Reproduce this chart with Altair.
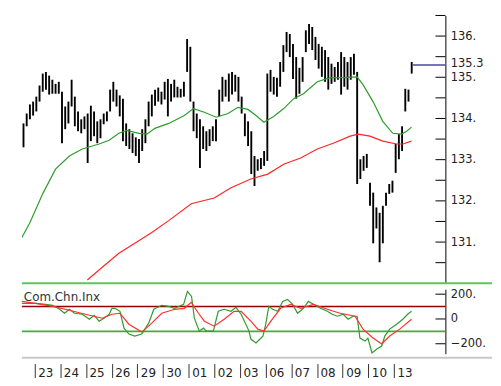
import altair as alt
import pandas as pd

# ---------------- data ----------------
day_labels = ["23", "24", "25", "26", "29", "30", "01", "02", "03", "06", "07", "08", "09", "10", "13"]
bars_per_day = 8

bar_high = [133.88, 134.12, 134.34, 134.41, 134.53, 134.80, 135.09, 135.13, 135.04, 134.94,
            134.84, 134.89, 134.65, 134.29, 134.41, 134.94, 134.53, 134.17, 133.98, 134.05,
            134.12, 134.31, 134.17, 133.93, 133.98, 134.12, 134.17, 134.70, 134.89, 134.70,
            134.56, 134.48, 133.88, 133.74, 133.64, 133.54, 133.50, 133.74, 133.98, 134.41,
            134.58, 134.70, 134.75, 134.65, 134.89, 134.96, 134.84, 134.94, 134.77, 134.72,
            134.89, 135.93, 135.74, 134.41, 134.12, 133.98, 133.81, 133.69, 133.74, 133.81,
            133.98, 134.70, 135.01, 134.94, 135.09, 135.13, 135.06, 135.01, 134.53, 134.12,
            133.93, 133.69, 133.09, 133.01, 133.04, 133.21, 135.09, 135.18, 135.01, 134.99,
            135.37, 135.78, 136.10, 136.05, 135.81, 135.49, 135.23, 135.49, 136.14, 136.29,
            136.22, 135.98, 135.81, 135.74, 135.66, 135.49, 135.33, 135.25, 135.37, 135.61,
            135.49, 135.37, 135.49, 135.57, 135.13, 133.01, 133.09, 133.14, 132.44, 132.20,
            131.84, 131.71, 131.88, 132.20, 132.41, 132.49, 133.38, 133.62, 133.81, 134.72,
            134.70, 135.37]
bar_low = [133.30, 133.81, 133.98, 134.07, 134.17, 134.41, 134.65, 134.70, 134.58, 134.60,
           134.60, 134.60, 133.40, 133.74, 133.88, 134.29, 133.81, 133.69, 133.64, 133.74,
           132.92, 133.45, 133.57, 133.40, 133.52, 133.86, 133.93, 134.17, 134.41, 134.29,
           134.05, 133.45, 133.33, 133.26, 133.16, 133.09, 132.92, 133.21, 133.40, 133.81,
           134.05, 134.31, 134.41, 134.34, 134.46, 134.05, 134.41, 134.51, 134.51, 134.51,
           134.53, 135.13, 134.41, 133.69, 133.52, 132.80, 133.26, 133.21, 133.33, 133.45,
           133.45, 134.05, 134.41, 134.53, 134.41, 134.58, 134.65, 134.41, 134.12, 133.57,
           133.33, 132.65, 132.36, 132.73, 132.77, 132.85, 132.97, 134.65, 134.58, 134.53,
           134.77, 135.13, 135.61, 135.49, 134.96, 134.48, 134.60, 134.89, 135.61, 135.81,
           135.66, 135.42, 135.21, 135.01, 134.89, 134.70, 134.84, 134.89, 134.94, 134.58,
           134.77, 134.70, 134.94, 135.06, 132.41, 132.53, 132.73, 132.80, 131.88, 130.97,
           131.33, 130.51, 130.97, 131.88, 132.17, 132.20, 132.68, 133.01, 133.21, 134.17,
           134.41, 135.09]

ma_fast_t = [-0.50, -0.19, 0.31, 0.81, 1.35, 1.85, 2.51, 2.90, 3.28, 3.59, 4.06, 4.37, 4.68,
             5.22, 5.83, 6.18, 6.61, 7.07, 7.53, 7.92, 8.31, 8.62, 8.93, 9.31, 9.70, 10.09,
             10.47, 11.01, 11.51, 12.02, 12.56, 12.79, 13.18, 13.56, 13.95, 14.30, 14.49, 14.68]
ma_fast_v = [131.11, 131.47, 132.17, 132.77, 133.09, 133.26, 133.38, 133.47, 133.64, 133.71,
             133.64, 133.62, 133.76, 133.88, 134.07, 134.24, 134.15, 134.03, 134.12, 134.27,
             134.22, 134.07, 133.91, 134.05, 134.24, 134.48, 134.60, 134.89, 134.99, 134.99,
             135.01, 134.82, 134.41, 133.93, 133.64, 133.62, 133.69, 133.79]

ma_slow_t = [2.05, 2.63, 3.28, 3.90, 4.56, 5.22, 6.10, 6.99, 7.65, 8.42, 9.08, 9.70, 10.36,
             11.01, 11.63, 12.29, 12.60, 13.06, 13.56, 14.10, 14.34, 14.68]
ma_slow_v = [130.08, 130.39, 130.73, 130.97, 131.23, 131.52, 131.93, 132.07, 132.32, 132.53,
             132.65, 132.89, 133.04, 133.26, 133.40, 133.57, 133.62, 133.57, 133.45, 133.38,
             133.38, 133.45]

cci_t = [-0.50, -0.27, 0.04, 0.43, 0.70, 0.97, 1.16, 1.35, 1.55, 1.85, 2.13, 2.32, 2.51, 2.70,
         2.90, 3.01, 3.13, 3.32, 3.48, 3.67, 3.90, 4.17, 4.44, 4.64, 4.95, 5.22, 5.45, 5.80,
         5.95, 6.11, 6.22, 6.41, 6.57, 6.68, 6.96, 7.15, 7.38, 7.65, 7.84, 8.04, 8.35, 8.42,
         8.62, 8.89, 9.00, 9.12, 9.27, 9.47, 9.66, 9.85, 10.05, 10.24, 10.47, 10.66, 10.86,
         11.13, 11.40, 11.59, 11.79, 12.02, 12.21, 12.40, 12.56, 12.67, 12.87, 12.98, 13.14,
         13.33, 13.52, 13.64, 13.83, 14.10, 14.34, 14.53, 14.68]
cci_v = [126, 126, 126, 118, 110, 78, 46, 78, 46, 38, -2, 30, -18, 6,
         38, 86, 86, 62, -74, -122, -138, -122, -34, 78, 110, 102, 86, 118,
         222, 182, 6, -98, -74, -98, -98, 62, 78, 62, 94, 38, -98, -162,
         -194, -138, -42, 102, 78, 62, 142, 158, 118, 46, 86, 142, 118,
         86, 62, 38, 22, 38, -2, 22, 22, -154, -178, -154, -274,
         -242, -218, -138, -82, -42, -2, 38, 62]

sig_t = [-0.50, 0.04, 0.70, 1.35, 1.97, 2.63, 3.01, 3.32, 3.67, 4.17, 4.56, 4.95, 5.45, 5.83,
         6.10, 6.38, 6.61, 6.99, 7.38, 7.77, 8.04, 8.42, 8.69, 8.93, 9.20, 9.58, 9.97, 10.36,
         10.86, 11.40, 11.90, 12.48, 12.79, 13.18, 13.52, 13.83, 14.22, 14.68]
sig_v = [142, 126, 102, 70, 38, 6, 38, 46, -42, -106, -34, 46, 78, 86,
         134, 46, -18, -58, -2, 62, 62, -18, -82, -98, -18, 86, 118, 86,
         118, 78, 46, 22, -82, -154, -202, -138, -82, -2]

last_price = 135.3
price_ticks = [130.5, 131, 131.5, 132, 132.5, 133, 133.5, 134, 134.5, 135, 135.5, 136, 136.5]
price_labels = [131, 132, 133, 134, 135, 136]
cci_ticks = [200, 0, -200]
cci_upper_level = 100
cci_lower_level = -100

# ---------------- layout ----------------
X_DOMAIN = [-0.5, 16.0]
W = 427
H1 = 270
H2 = 65
FONT = "DejaVu Sans"
TXT = "#222222"
LINE_END = 474  # right end of the full-width separator lines, in px from plot left

xs = alt.Scale(domain=X_DOMAIN, nice=False, zero=False)
ys1 = alt.Scale(domain=[130, 136.5], nice=False, zero=False)
ys2 = alt.Scale(domain=[-280, 240], nice=False, zero=False)

bars = pd.DataFrame({
    "t": [-0.5 + (i + 0.5) / bars_per_day for i in range(len(bar_high))],
    "high": bar_high,
    "low": bar_low,
})
last_t = bars["t"].iloc[-1]

price_axis = alt.Axis(
    orient="right", values=price_labels + [last_price],
    labelExpr="datum.value == 135.3 ? '135.3' : format(datum.value, 'd') + '.'",
    ticks=False, grid=False, domain=True, domainColor="black", domainWidth=1,
    labelPadding=5, labelFont=FONT, labelFontSize=11.5, labelColor=TXT,
    labelOffset={"condition": {"test": "datum.value == 135.3", "value": -1.5},
                 "value": 0},
    labelOverlap=False, title=None,
)
cci_axis = alt.Axis(
    orient="right", values=cci_ticks,
    labelExpr="datum.value == 0 ? '0' : format(datum.value, 'd') + '.'",
    ticks=False, grid=False, domain=True, domainColor="black", domainWidth=1,
    labelPadding=5, labelFont=FONT, labelFontSize=11.5, labelColor=TXT,
    labelOverlap=False, title=None,
)
label_js = "[" + ",".join("'" + d + "'" for d in day_labels) + "][datum.value]"
x_axis = alt.Axis(
    values=list(range(len(day_labels))), labelExpr=label_js,
    domain=False, grid=False, tickSize=14, tickColor="#333333", tickWidth=1,
    offset=10, labelAlign="left", labelBaseline="middle", labelPadding=-5, labelOffset=3,
    labelFont=FONT, labelFontSize=12, labelColor=TXT, labelOverlap=False, labelFlush=False,
    title=None,
)

def X1(field):
    return alt.X(field, scale=xs, axis=None)

def Y1(field):
    return alt.Y(field, scale=ys1, axis=price_axis)

def X2(field):
    return alt.X(field, scale=xs, axis=x_axis)

def Y2(field):
    return alt.Y(field, scale=ys2, axis=cci_axis)

bar_layer = alt.Chart(bars).mark_rule(color="black", strokeWidth=1.9).encode(
    x=X1("t:Q"), y=Y1("low:Q"), y2="high:Q",
)
fast_layer = alt.Chart(pd.DataFrame({"t": ma_fast_t, "v": ma_fast_v})).mark_line(
    color="#2e9c2e", strokeWidth=1.2, clip=True
).encode(x=X1("t:Q"), y=Y1("v:Q"))
slow_layer = alt.Chart(pd.DataFrame({"t": ma_slow_t, "v": ma_slow_v})).mark_line(
    color="#ff2626", strokeWidth=1.2, clip=True
).encode(x=X1("t:Q"), y=Y1("v:Q"))
last_layer = alt.Chart(pd.DataFrame({"t0": [last_t + 0.05], "t1": [X_DOMAIN[1]], "v": [last_price]})).mark_rule(
    color="#48489c", strokeWidth=1.5
).encode(x=X1("t0:Q"), x2="t1:Q", y=Y1("v:Q"))
ptick_layer = alt.Chart(pd.DataFrame({"v": price_ticks})).mark_rule(color="black", strokeWidth=1).encode(
    y=Y1("v:Q"), x=alt.value(W - 10), x2=alt.value(W)
)
sep_layer = alt.Chart(pd.DataFrame({"k": [0]})).mark_rule(color="#5ec45e", strokeWidth=2).encode(
    x=alt.value(0), x2=alt.value(LINE_END), y=alt.value(H1)
)

upper = alt.layer(bar_layer, fast_layer, slow_layer, last_layer, ptick_layer, sep_layer).properties(
    width=W, height=H1
)

lvl_up = alt.Chart(pd.DataFrame({"v": [cci_upper_level]})).mark_rule(color="#9a0000", strokeWidth=1.5).encode(
    y=Y2("v:Q"), x=alt.value(0), x2=alt.value(W)
)
lvl_dn = alt.Chart(pd.DataFrame({"v": [cci_lower_level]})).mark_rule(color="#44aa44", strokeWidth=2).encode(
    y=Y2("v:Q"), x=alt.value(0), x2=alt.value(W)
)
cci_layer = alt.Chart(pd.DataFrame({"t": cci_t, "v": cci_v})).mark_line(
    color="#2e9c2e", strokeWidth=1.2
).encode(x=X2("t:Q"), y=Y2("v:Q"))
sig_layer = alt.Chart(pd.DataFrame({"t": sig_t, "v": sig_v})).mark_line(
    color="#ff3030", strokeWidth=1.2
).encode(x=X2("t:Q"), y=Y2("v:Q"))
ctick_layer = alt.Chart(pd.DataFrame({"v": cci_ticks})).mark_rule(color="black", strokeWidth=1).encode(
    y=Y2("v:Q"), x=alt.value(W - 10), x2=alt.value(W)
)
title_layer = alt.Chart(pd.DataFrame({"label": ["Com.Chn.Inx"]})).mark_text(
    align="left", baseline="middle", font=FONT, fontSize=12, color="#333333"
).encode(text="label:N", x=alt.value(2), y=alt.value(8))
bottom_line = alt.Chart(pd.DataFrame({"k": [0]})).mark_rule(color="#c8c8c8", strokeWidth=2).encode(
    x=alt.value(0), x2=alt.value(LINE_END), y=alt.value(H2 + 4)
)

lower = alt.layer(lvl_up, lvl_dn, cci_layer, sig_layer, ctick_layer, title_layer, bottom_line).properties(
    width=W, height=H2
)

chart = alt.vconcat(upper, lower, spacing=3).properties(
    padding={"left": 11, "top": 5, "right": 0, "bottom": 0}, background="white"
).configure_view(stroke=None)

chart.save("out.html", embed_options={"renderer": "svg", "actions": False})
